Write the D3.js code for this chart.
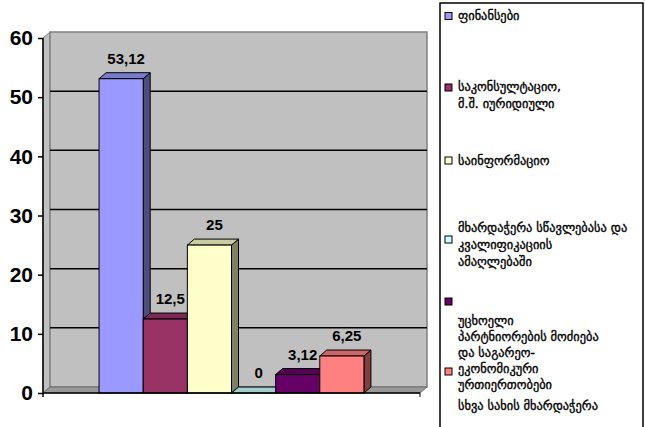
<!DOCTYPE html>
<html><head><meta charset="utf-8">
<script src="https://cdn.jsdelivr.net/npm/d3@7"></script>
<style>body{margin:0;background:#fff}svg{display:block}</style>
</head><body>
<script>
const seriesNames = [
  "ფინანსები",
  "საკონსულტაციო, მ.შ. იურიდიული",
  "საინფორმაციო",
  "მხარდაჭერა სწავლებასა და კვალიფიკაციის ამაღლებაში",
  "უცხოელი პარტნიორების მოძიება და საგარეო-ეკონომიკური ურთიერთობები",
  "სხვა სახის მხარდაჭერა"
];
const values = [53.12, 12.5, 25, 0, 3.12, 6.25];
const valueLabels = ["53,12", "12,5", "25", "0", "3,12", "6,25"];
const yTicks = [0, 10, 20, 30, 40, 50, 60];
const frontColors = ["#9999FF", "#993366", "#FFFFCC", "#CCFFFF", "#660066", "#FF8080"];
const topColors   = ["#7A7ACC", "#7A2952", "#CCCCA3", "#A3CCCC", "#520052", "#CC6666"];
const sideColors  = ["#4D4D80", "#4D1A33", "#808066", "#668080", "#330033", "#804040"];
const legendLines = [
  ["ფინანსები"],
  ["საკონსულტაციო,", "მ.შ. იურიდიული"],
  ["საინფორმაციო"],
  ["მხარდაჭერა სწავლებასა და", "კვალიფიკაციის", "ამაღლებაში"],
  ["უცხოელი", "პარტნიორების მოძიება", "და საგარეო-", "ეკონომიკური", "ურთიერთობები"],
  ["სხვა სახის მხარდაჭერა"]
];

const W = 645, H = 427;
const svg = d3.select("body").append("svg").attr("width", W).attr("height", H);

const y = d3.scaleLinear().domain([0, 60]).range([393, 38]);
const x = d3.scaleBand().domain(seriesNames).range([43, 420]).paddingInner(0).paddingOuter(1.27);
const dx = 7, dy = 6;
const x0 = 43, x1 = 420;
const line = d3.line();

// side wall
svg.append("path").attr("d", line([[x0, y(60)], [x0 + dx, y(60) - dy], [x0 + dx, y(0) - dy], [x0, y(0)]]) + "Z")
  .attr("fill", "#C0C0C0").attr("stroke", "#808080").attr("stroke-width", 1);
// back wall
svg.append("rect").attr("x", x0 + dx).attr("y", y(60) - dy).attr("width", x1 - x0)
  .attr("height", y(0) - y(60)).attr("fill", "#C0C0C0").attr("stroke", "#808080").attr("stroke-width", 1.5);
// floor
svg.append("path").attr("d", line([[x0, y(0)], [x0 + dx, y(0) - dy], [x1 + dx, y(0) - dy], [x1, y(0)]]) + "Z")
  .attr("fill", "#999999").attr("stroke", "#707070").attr("stroke-width", 1);

// gridlines
svg.append("g").selectAll("line").data(yTicks.filter(t => t > 0 && t < 60)).join("line")
  .attr("x1", x0 + dx).attr("x2", x1 + dx)
  .attr("y1", d => y(d) - dy).attr("y2", d => y(d) - dy)
  .attr("stroke", "#000").attr("stroke-width", 1.5);

// bars
const bw = x.bandwidth();
const bars = svg.append("g").selectAll("g").data(seriesNames).join("g");
bars.each(function (name, i) {
  const g = d3.select(this);
  const bx = x(name), v = values[i], top = y(v), bot = y(0);
  g.append("path").attr("d", line([[bx + bw, top], [bx + bw + dx, top - dy], [bx + bw + dx, bot - dy], [bx + bw, bot]]) + "Z")
    .attr("fill", sideColors[i]).attr("stroke", "#000").attr("stroke-width", 1).attr("stroke-linejoin", "round");
  g.append("path").attr("d", line([[bx, top], [bx + dx, top - dy], [bx + bw + dx, top - dy], [bx + bw, top]]) + "Z")
    .attr("fill", topColors[i]).attr("stroke", "#000").attr("stroke-width", 1).attr("stroke-linejoin", "round");
  g.append("rect").attr("x", bx).attr("y", top).attr("width", bw).attr("height", bot - top)
    .attr("fill", frontColors[i]).attr("stroke", "#000").attr("stroke-width", 1);
});

// value labels
svg.append("g").selectAll("text").data(seriesNames).join("text")
  .attr("x", (d) => x(d) + bw / 2 + 5)
  .attr("y", (d, i) => y(values[i]) - 15)
  .attr("text-anchor", "middle")
  .attr("font-family", "Liberation Sans, Arial, sans-serif")
  .attr("font-weight", "bold").attr("font-size", 15)
  .text((d, i) => valueLabels[i]);

// y axis
const yAxis = d3.axisLeft(y).tickValues(yTicks).tickSize(5).tickSizeOuter(0).tickPadding(5);
const ag = svg.append("g").attr("transform", `translate(${x0},0)`).call(yAxis);
ag.select(".domain").remove();
ag.selectAll(".tick line").attr("stroke", "#000").attr("stroke-width", 1.5);
ag.selectAll(".tick text").attr("font-family", "Liberation Sans, Arial, sans-serif")
  .attr("font-weight", "bold").attr("font-size", 21).attr("fill", "#000");
svg.append("line").attr("x1", x0).attr("x2", x0).attr("y1", y(60)).attr("y2", y(0) + 4)
  .attr("stroke", "#000").attr("stroke-width", 1.5);
svg.append("line").attr("x1", x0).attr("x2", x1).attr("y1", y(0)).attr("y2", y(0))
  .attr("stroke", "#000").attr("stroke-width", 1.5);
svg.append("line").attr("x1", x1).attr("x2", x1).attr("y1", y(0)).attr("y2", y(0) + 4)
  .attr("stroke", "#000").attr("stroke-width", 1);

// legend
const lg = svg.append("g");
lg.append("rect").attr("x", 440).attr("y", 3).attr("width", 203).attr("height", 440)
  .attr("fill", "#fff").attr("stroke", "#000").attr("stroke-width", 1.5);
const markerY = [16, 87.5, 160.5, 239.5, 301.5, 371.5];
const textBase = [[20], [91, 108], [165], [232, 249, 266], [325, 341, 357, 373, 389], [410]];
seriesNames.forEach((name, i) => {
  lg.append("rect").attr("x", 445).attr("y", markerY[i] - 3.5).attr("width", 7).attr("height", 7)
    .attr("fill", frontColors[i]).attr("stroke", "#000").attr("stroke-width", 1);
  legendLines[i].forEach((t, j) => {
    lg.append("text").attr("x", 458).attr("y", textBase[i][j])
      .attr("font-family", "DejaVu Sans, sans-serif").attr("font-size", 12.4).attr("fill", "#000")
      .attr("stroke", "#000").attr("stroke-width", 0.35)
      .text(t);
  });
});
</script>
</body></html>
